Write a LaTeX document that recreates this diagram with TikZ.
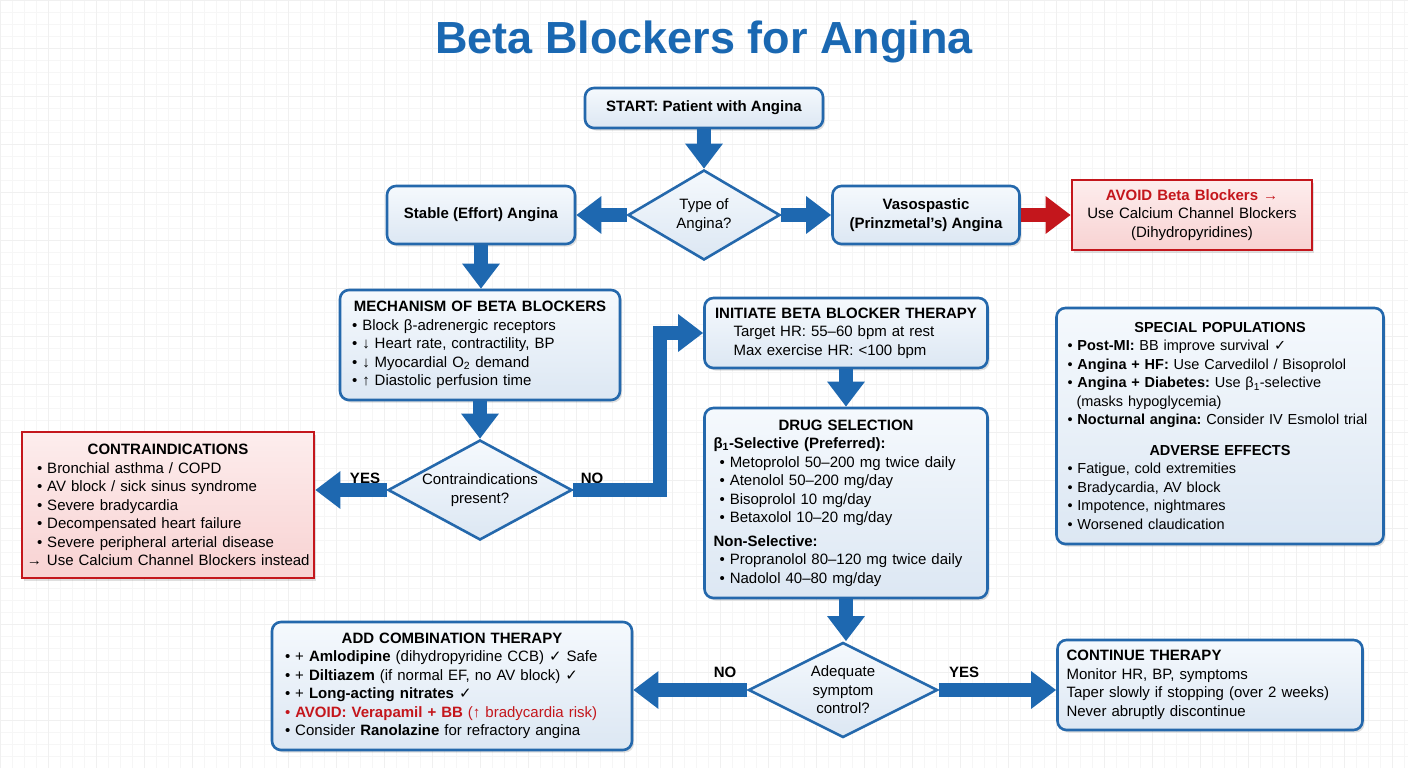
\documentclass[tikz,border=0pt]{standalone}
\usepackage{fontspec}
\setmainfont{Liberation Sans}
\newfontfamily\symfont{DejaVu Sans}
\usetikzlibrary{positioning}
\usetikzlibrary{shapes.geometric}
\usetikzlibrary{arrows.meta}
\usetikzlibrary{shadows}
\frenchspacing

\definecolor{flowblue}{HTML}{1E68B0}
\definecolor{edgeblue}{HTML}{2468AC}
\definecolor{filltop}{HTML}{F5F9FD}
\definecolor{fillbot}{HTML}{DCE7F3}
\definecolor{warnred}{HTML}{C4161C}
\definecolor{warntop}{HTML}{FDEDED}
\definecolor{warnbot}{HTML}{F8D2D2}
\definecolor{titleblue}{HTML}{1A68B2}

\newcommand{\chk}{{\symfont ✓}}
\newcommand{\bpt}{\textbullet\ }

\tikzset{
  txt/.style={font=\fontsize{15}{18.5}\selectfont},
  head/.style={font=\fontsize{15}{18.5}\selectfont\bfseries},
  card/.style={txt, rectangle, rounded corners=9pt, draw=edgeblue, line width=2.6pt,
    top color=filltop, bottom color=fillbot, inner xsep=9pt, inner ysep=6pt,
    drop shadow={shadow xshift=2pt, shadow yshift=-2.5pt, opacity=.25}},
  warncard/.style={card, sharp corners, draw=warnred, top color=warntop, bottom color=warnbot},
  decision/.style={txt, diamond, draw=edgeblue, line width=2.6pt, inner sep=0pt, align=center,
    top color=filltop, bottom color=fillbot},
  flow/.style={line width=14pt, draw=flowblue, -{Triangle[width=36pt,length=25pt]}},
  warnflow/.style={flow, draw=warnred},
  answer/.style={font=\fontsize{15}{18}\selectfont\bfseries}
}

\begin{document}
\begin{tikzpicture}[x=1pt, y=-1pt]
\useasboundingbox (0,0) rectangle (1408,768);
\fill[white] (0,0) rectangle (1408,768);
\draw[step=12pt, black!3.5, line width=.4pt] (0,768) grid (1408,0);   %fine grid
\draw[step=48pt, black!6, line width=.6pt] (0,768) grid (1408,0);

\node[font=\fontsize{45}{50}\selectfont\bfseries, text=titleblue] (title) at (704,42) {Beta Blockers for Angina};

\node[card, head, minimum width=238pt, minimum height=40pt] (start) at (704,108) {START: Patient with Angina};
\node[decision, minimum width=152pt, minimum height=90pt, aspect=1.69] (type) at (704,215) {Type of\\Angina?};
\node[card, head, minimum width=188pt, minimum height=58pt] (stable) at (481,215) {Stable (Effort) Angina};
\node[card, head, align=center, minimum width=187pt, minimum height=58pt] (vaso) at (926,215) {Vasospastic\\(Prinzmetal’s) Angina};
\node[warncard, align=center, text width=222pt, minimum height=70pt] (avoid) at (1192,215)
  {\textcolor{warnred}{\textbf{AVOID Beta Blockers →}}\\Use Calcium Channel Blockers\\(Dihydropyridines)};

\node[card, align=left, text width=262pt, minimum height=110pt] (mech) at (480,345)
  {\makebox[\hsize]{\bfseries MECHANISM OF BETA BLOCKERS}\\
   \hspace*{3pt}\bpt Block β-adrenergic receptors\\
   \hspace*{3pt}\bpt ↓ Heart rate, contractility, BP\\
   \hspace*{3pt}\bpt ↓ Myocardial O\textsubscript{2} demand\\
   \hspace*{3pt}\bpt ↑ Diastolic perfusion time};

\node[decision, minimum width=184pt, minimum height=100pt, aspect=1.84] (ci) at (480,490) {Contraindications\\present?};
\node[warncard, align=left, inner xsep=5pt, text width=282pt, minimum height=146pt] (contra) at (168,505)
  {\makebox[\hsize]{\bfseries CONTRAINDICATIONS}\\
   \hspace*{10pt}\bpt Bronchial asthma / COPD\\
   \hspace*{10pt}\bpt AV block / sick sinus syndrome\\
   \hspace*{10pt}\bpt Severe bradycardia\\
   \hspace*{10pt}\bpt Decompensated heart failure\\
   \hspace*{10pt}\bpt Severe peripheral arterial disease\\
   \mbox{→ Use Calcium Channel Blockers instead}};

\node[card, align=left, text width=265pt, minimum height=70pt] (init) at (846,333)
  {\makebox[\hsize]{\bfseries INITIATE BETA BLOCKER THERAPY}\\
   \hspace*{20pt}Target HR: 55–60 bpm at rest\\
   \hspace*{20pt}Max exercise HR: <100 bpm};

\node[card, align=left, text width=265pt, minimum height=190pt] (drug) at (846,503)
  {\makebox[\hsize]{\bfseries DRUG SELECTION}\\
   \textbf{β\textsubscript{1}-Selective (Preferred):}\\
   \hspace*{6pt}\bpt Metoprolol 50–200 mg twice daily\\
   \hspace*{6pt}\bpt Atenolol 50–200 mg/day\\
   \hspace*{6pt}\bpt Bisoprolol 10 mg/day\\
   \hspace*{6pt}\bpt Betaxolol 10–20 mg/day\\[5pt]
   \textbf{Non-Selective:}\\
   \hspace*{6pt}\bpt Propranolol 80–120 mg twice daily\\
   \hspace*{6pt}\bpt Nadolol 40–80 mg/day};

\node[card, align=left, font=\fontsize{14.5}{18.5}\selectfont, inner xsep=7pt, text width=313pt, minimum height=236pt] (spec) at (1220,426)
  {\makebox[\hsize]{\bfseries SPECIAL POPULATIONS}\\
   \hspace*{4pt}\bpt\textbf{Post-MI:} BB improve survival \chk\\
   \hspace*{4pt}\bpt\textbf{Angina + HF:} Use Carvedilol / Bisoprolol\\
   \hspace*{4pt}\bpt\textbf{Angina + Diabetes:} Use β\textsubscript{1}-selective\\
   \hspace*{13pt}(masks hypoglycemia)\\
   \hspace*{4pt}\mbox{\bpt\textbf{Nocturnal angina:} Consider IV Esmolol trial}\\[12pt]
   \makebox[\hsize]{\bfseries ADVERSE EFFECTS}\\
   \hspace*{4pt}\bpt Fatigue, cold extremities\\
   \hspace*{4pt}\bpt Bradycardia, AV block\\
   \hspace*{4pt}\bpt Impotence, nightmares\\
   \hspace*{4pt}\bpt Worsened claudication};

\node[decision, minimum width=189pt, minimum height=95pt, aspect=2] (adq) at (843,690) {Adequate\\symptom\\control?};
\node[card, align=left, text width=342pt, minimum height=128pt] (combo) at (452,686)
  {\makebox[\hsize]{\bfseries ADD COMBINATION THERAPY}\\
   \hspace*{4pt}\bpt + \textbf{Amlodipine} (dihydropyridine CCB) \chk\ Safe\\
   \hspace*{4pt}\bpt + \textbf{Diltiazem} (if normal EF, no AV block) \chk\\
   \hspace*{4pt}\bpt + \textbf{Long-acting nitrates} \chk\\
   \hspace*{4pt}\textcolor{warnred}{\bpt\textbf{AVOID: Verapamil + BB} (↑ bradycardia risk)}\\
   \hspace*{4pt}\bpt Consider \textbf{Ranolazine} for refractory angina};
\node[card, align=left, text width=287pt, minimum height=90pt] (cont) at (1210,685)
  {\textbf{CONTINUE THERAPY}\\
   Monitor HR, BP, symptoms\\
   Taper slowly if stopping (over 2 weeks)\\
   Never abruptly discontinue};

\node[answer] (yes1) at (365,478) {YES};
\node[answer] (no1) at (592,478) {NO};
\node[answer] (no2) at (725,672) {NO};
\node[answer] (yes2) at (964,672) {YES};
\coordinate (bend) at (660,490);   %corner of the NO path

\draw[flow] (start) -- (type);
\draw[flow] (type) -- (stable);
\draw[flow] (type) -- (vaso);
\draw[warnflow] (vaso) -- (avoid);
\draw[flow] (stable.south) -- (stable.south |- mech.north);
\draw[flow] (mech) -- (ci);
\draw[flow] (ci.west) -- (ci.west -| contra.east);   %yes
\draw[flow] (ci.east) -- (bend) |- (init.west);       %no
\draw[flow] (init) -- (drug);
\draw[flow] (drug.south) -- (drug.south |- adq.north);
\draw[flow] (adq.west) -- (adq.west -| combo.east);   %no
\draw[flow] (adq.east) -- (adq.east -| cont.west);    %yes
\end{tikzpicture}
\end{document}
